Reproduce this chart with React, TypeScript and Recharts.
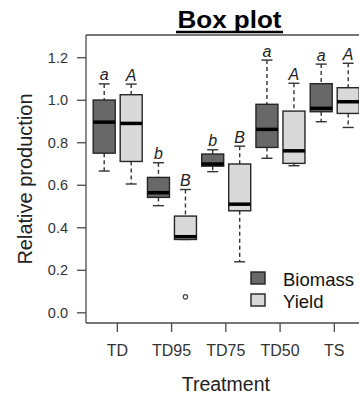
import React from 'react';
import { ComposedChart, Bar, XAxis, YAxis, Label, Legend } from 'recharts';

// treatment groups along the x axis
const treatments = ['TD', 'TD95', 'TD75', 'TD50', 'TS'];

// biomass five-number summaries
const biomassMin = [0.667, 0.504, 0.664, 0.727, 0.899];
const biomassQ1 = [0.751, 0.543, 0.69, 0.778, 0.946];
const biomassMed = [0.897, 0.565, 0.7, 0.863, 0.962];
const biomassQ3 = [1.001, 0.637, 0.747, 0.981, 1.078];
const biomassMax = [1.077, 0.706, 0.767, 1.189, 1.17];
const biomassOutliers: number[][] = [[], [], [], [], []];
const biomassLetters = ['a', 'b', 'b', 'a', 'a'];

// yield five-number summaries
const yieldMin = [0.606, 0.345, 0.24, 0.692, 0.872];
const yieldQ1 = [0.712, 0.345, 0.48, 0.703, 0.938];
const yieldMed = [0.891, 0.358, 0.511, 0.762, 0.993];
const yieldQ3 = [1.026, 0.455, 0.7, 0.949, 1.059];
const yieldMax = [1.076, 0.58, 0.784, 1.08, 1.174];
const yieldOutliers: number[][] = [[], [0.075], [], [], []];
const yieldLetters = ['A', 'B', 'B', 'A', 'A'];

const yTicks = [0, 0.2, 0.4, 0.6, 0.8, 1.0, 1.2];

const rows = treatments.map((name, i) => ({
  name,
  biomass: {
    min: biomassMin[i], q1: biomassQ1[i], med: biomassMed[i], q3: biomassQ3[i], max: biomassMax[i],
    out: biomassOutliers[i], letter: biomassLetters[i],
  },
  yield: {
    min: yieldMin[i], q1: yieldQ1[i], med: yieldMed[i], q3: yieldQ3[i], max: yieldMax[i],
    out: yieldOutliers[i], letter: yieldLetters[i],
  },
}));

const FONT = '"Liberation Sans", Arial, Helvetica, sans-serif';
const AXIS = '#4a4a4a';
const BIOMASS_FILL = '#686868';
const YIELD_FILL = '#d9d9d9';

// The bar spans whisker min..max; everything else is placed on that same scale.
const BoxShape = (props: any) => {
  const { x, y, width, height, payload, series, fill } = props;
  const s = payload[series];
  const top = Math.min(y, y + height);
  const bottom = Math.max(y, y + height);
  const toY = (v: number) => top + ((s.max - v) / (s.max - s.min)) * (bottom - top);
  const cx = x + width / 2;
  const cap = 5.5;
  return (
    <g>
      <line x1={cx} x2={cx} y1={toY(s.max)} y2={toY(s.q3)} stroke="#333" strokeWidth={1.4} strokeDasharray="4 3" />
      <line x1={cx} x2={cx} y1={toY(s.q1)} y2={toY(s.min)} stroke="#333" strokeWidth={1.4} strokeDasharray="4 3" />
      <line x1={cx - cap} x2={cx + cap} y1={toY(s.max)} y2={toY(s.max)} stroke="#333" strokeWidth={1.4} />
      <line x1={cx - cap} x2={cx + cap} y1={toY(s.min)} y2={toY(s.min)} stroke="#333" strokeWidth={1.4} />
      <rect x={x} y={toY(s.q3)} width={width} height={toY(s.q1) - toY(s.q3)} fill={fill} stroke="#262626" strokeWidth={1.4} />
      <line x1={x} x2={x + width} y1={toY(s.med)} y2={toY(s.med)} stroke="#000" strokeWidth={3.5} />
      {s.out.map((v: number, k: number) => (
        <circle key={k} cx={cx} cy={toY(v)} r={2.2} fill="none" stroke="#444" strokeWidth={1.2} />
      ))}
      <text x={cx} y={toY(s.max) - 3.5} textAnchor="middle" fontFamily={FONT} fontSize={16} fontStyle="italic" fill="#222">
        {s.letter}
      </text>
    </g>
  );
};

const LegendBox = (props: any) => {
  const items = props.payload || [];
  return (
    <svg width={112} height={48}>
      {items.map((it: any, i: number) => (
        <g key={it.value} transform={`translate(0, ${i * 22})`}>
          <rect x={3} y={5} width={14} height={12} fill={it.color} stroke="#222" strokeWidth={1.4} />
          <text x={35} y={19} fontFamily={FONT} fontSize={18.5} fill="#111">{it.value}</text>
        </g>
      ))}
    </svg>
  );
};

export default function App() {
  return (
    <div style={{ position: 'absolute', left: 0, top: 0, width: 359, height: 397, overflow: 'hidden', background: '#fff' }}>
      <svg width={359} height={40} style={{ position: 'absolute', left: 0, top: 0 }}>
        <text x={229.5} y={28.3} textAnchor="middle" fontFamily={FONT} fontWeight="bold" fontSize={23}
          textLength={104} lengthAdjust="spacingAndGlyphs" fill="#000">
          Box plot
        </text>
        <line x1={176} x2={283} y1={32} y2={32} stroke="#000" strokeWidth={2.5} />
      </svg>
      <ComposedChart
        width={380}
        height={397}
        data={rows}
        margin={{ top: 34, right: 14.35, bottom: 0, left: 0 }}
        barSize={22}
        barGap={5}
      >
        <XAxis
          xAxisId="top"
          orientation="top"
          dataKey="name"
          height={1}
          tick={false}
          tickLine={false}
          padding={{ left: 4.2, right: 4.2 }}
          axisLine={{ stroke: AXIS, strokeWidth: 1.3 }}
        />
        <XAxis
          dataKey="name"
          height={74}
          padding={{ left: 4.2, right: 4.2 }}
          axisLine={{ stroke: AXIS, strokeWidth: 1.3 }}
          tickLine={{ stroke: AXIS, strokeWidth: 1.3 }}
          tickSize={9}
          tickMargin={13}
          tick={{ fill: '#333', fontSize: 16, fontFamily: FONT }}
        >
          <Label
            content={({ viewBox }: any) => (
              <text x={viewBox.x + viewBox.width / 2} y={viewBox.y + 67.7} textAnchor="middle"
                fontFamily={FONT} fontSize={19.5} fill="#222">
                Treatment
              </text>
            )}
          />
        </XAxis>
        <YAxis
          type="number"
          width={86}
          domain={[-0.048, 1.307]}
          ticks={yTicks}
          tickFormatter={(v: number) => v.toFixed(1)}
          axisLine={{ stroke: AXIS, strokeWidth: 1.3 }}
          tickLine={{ stroke: AXIS, strokeWidth: 1.3 }}
          tickSize={9}
          tickMargin={9}
          tick={{ fill: '#333', fontSize: 14.5, fontFamily: FONT }}
        >
          <Label
            content={({ viewBox }: any) => {
              const cx = viewBox.x + 25;
              const cy = viewBox.y + viewBox.height / 2;
              return (
                <text x={cx} y={cy} transform={`rotate(-90, ${cx}, ${cy})`} textAnchor="middle"
                  dominantBaseline="central" fontFamily={FONT} fontSize={20} fill="#222">
                  Relative production
                </text>
              );
            }}
          />
        </YAxis>
        <Legend
          layout="horizontal"
          align="center"
          verticalAlign="middle"
          content={<LegendBox />}
          wrapperStyle={{ position: 'absolute', left: 248, top: 267, width: 112, height: 48 }}
        />
        <Bar
          name="Biomass"
          dataKey={(d: any) => [d.biomass.min, d.biomass.max]}
          fill={BIOMASS_FILL}
          isAnimationActive={false}
          shape={(p: any) => <BoxShape {...p} series="biomass" fill={BIOMASS_FILL} />}
        />
        <Bar
          name="Yield"
          dataKey={(d: any) => [d.yield.min, d.yield.max]}
          fill={YIELD_FILL}
          isAnimationActive={false}
          shape={(p: any) => <BoxShape {...p} series="yield" fill={YIELD_FILL} />}
        />
      </ComposedChart>
    </div>
  );
}
